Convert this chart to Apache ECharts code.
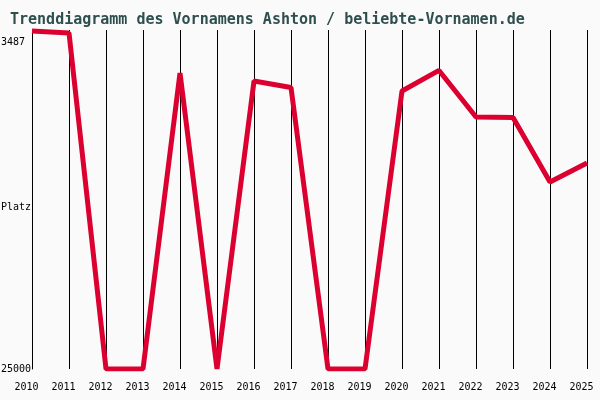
<!DOCTYPE html>
<html>
  <head>
    <meta charset="utf-8" />
    <title>Trenddiagramm Ashton</title>
    <style>
      html, body { margin: 0; padding: 0; background: #fafafa; }
      #main { width: 600px; height: 400px; }
    </style>
  </head>
  <body>
    <script src="https://cdn.jsdelivr.net/npm/echarts@6/dist/echarts.min.js"></script>
    <div id="main"></div>
    <script>
      // Jahre und Platzierungen (Platz 25000 = nicht in der Liste)
      var years = ["2010", "2011", "2012", "2013", "2014", "2015", "2016", "2017",
                   "2018", "2019", "2020", "2021", "2022", "2023", "2024", "2025"];
      var ranks = [2770, 2900, 25000, 25000, 5530, 25000, 6060, 6480,
                   25000, 25000, 6710, 5360, 8420, 8460, 12700, 11450];
      var yTicks = [3487, 25000];

      var chart = echarts.init(document.getElementById("main"));

      chart.setOption({
        backgroundColor: "#fafafa",
        animation: false,
        title: {
          text: "Trenddiagramm des Vornamens Ashton / beliebte-Vornamen.de",
          left: 5,
          top: 8,
          textStyle: {
            fontFamily: "DejaVu Sans Mono",
            fontSize: 15,
            fontWeight: "bold",
            color: "#2f4f4f"
          }
        },
        graphic: [{
          type: "text",
          left: 1,
          top: 202,
          style: {
            text: "Platz",
            fontFamily: "DejaVu Sans Mono",
            fontSize: 10,
            fill: "#000"
          }
        }],
        grid: { left: 32, right: 13, top: 30, bottom: 31, outerBoundsMode: "none", containLabel: false },
        xAxis: {
          type: "category",
          data: years,
          boundaryGap: false,
          axisLine: { show: false },
          axisTick: { show: false },
          axisLabel: {
            margin: 13,
            padding: [0, 11, 0, 0],
            fontFamily: "DejaVu Sans Mono",
            fontSize: 10,
            color: "#000"
          },
          splitLine: { show: true, lineStyle: { color: "#000", width: 1 } }
        },
        yAxis: {
          type: "value",
          inverse: true,
          min: 2700,
          max: 25000,
          axisLine: { show: true, lineStyle: { color: "#000", width: 1 } },
          axisTick: { show: false },
          splitLine: { show: false },
          axisLabel: {
            customValues: yTicks,
            formatter: function (v) { return String(v); },
            align: "left",
            margin: 31,
            fontFamily: "DejaVu Sans Mono",
            fontSize: 10,
            color: "#000"
          }
        },
        series: [{
          type: "line",
          data: ranks,
          symbol: "none",
          lineStyle: { color: "#dc0030", width: 5 }
        }]
      });
    </script>
  </body>
</html>
